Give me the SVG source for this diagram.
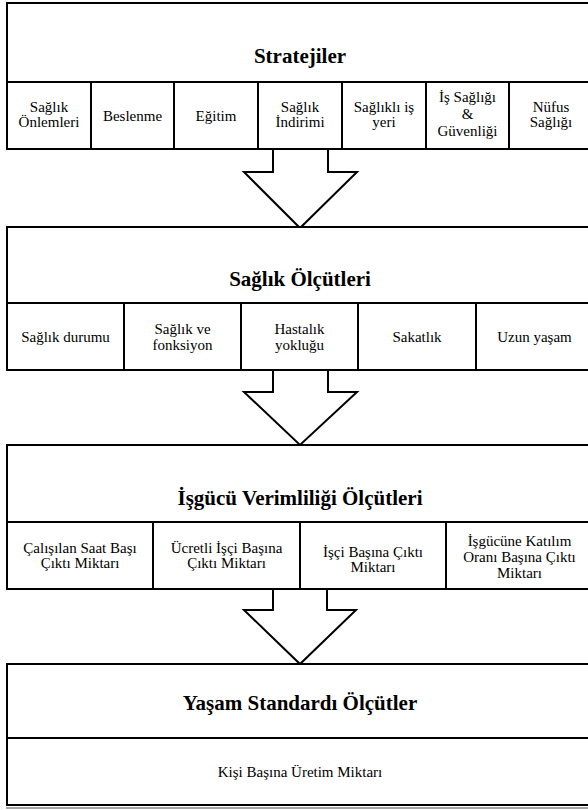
<svg xmlns="http://www.w3.org/2000/svg" width="588" height="810" viewBox="0 0 588 810">
<style>
.box{fill:#fff;stroke:#000;stroke-width:2}
.ln{stroke:#000;stroke-width:2;fill:none}
.arr{fill:#fff;stroke:#000;stroke-width:2;stroke-linejoin:miter}
text{font-family:"Liberation Serif","Times New Roman",Times,Tinos,"Nimbus Roman","Nimbus Roman No9 L",FreeSerif,"Noto Serif","DejaVu Serif",Georgia,serif;text-anchor:middle;fill:#000}
.t{font-size:21px;font-weight:bold}
.c{font-size:15px}
</style>
<rect width="588" height="810" fill="#fff"/>
<g id="connectors">
<polyline class="arr" points="273,149 273,172 244,172 300,228 357,172 328,172 328,149"/>
<polyline class="arr" points="273,370 273,392 244,392 300,445 357,392 328,392 328,370"/>
<polyline class="arr" points="273,589 273,610 244,610 300,664 356,610 327,610 327,589"/>
</g>
<g id="stratejiler">
<rect class="box" x="7" y="3" width="600" height="146"/>
<line class="ln" x1="7" y1="82" x2="600" y2="82"/>
<line class="ln" x1="91" y1="82" x2="91" y2="149"/>
<line class="ln" x1="174" y1="82" x2="174" y2="149"/>
<line class="ln" x1="258" y1="82" x2="258" y2="149"/>
<line class="ln" x1="342" y1="82" x2="342" y2="149"/>
<line class="ln" x1="426" y1="82" x2="426" y2="149"/>
<line class="ln" x1="509" y1="82" x2="509" y2="149"/>
<text class="t" x="300" y="63">Stratejiler</text>
<text class="c" x="49" y="112">Sağlık</text>
<text class="c" x="49" y="127">Önlemleri</text>
<text class="c" x="132.5" y="121">Beslenme</text>
<text class="c" x="216" y="121">Eğitim</text>
<text class="c" x="300" y="112">Sağlık</text>
<text class="c" x="300" y="127">İndirimi</text>
<text class="c" x="384" y="112">Sağlıklı iş</text>
<text class="c" x="384" y="127">yeri</text>
<text class="c" x="467.5" y="102">İş Sağlığı</text>
<text class="c" x="467.5" y="119">&amp;</text>
<text class="c" x="467.5" y="136">Güvenliği</text>
<text class="c" x="551" y="112">Nüfus</text>
<text class="c" x="551" y="127">Sağlığı</text>
</g>
<g id="saglik-olcutleri">
<rect class="box" x="7" y="227" width="600" height="143"/>
<line class="ln" x1="7" y1="303" x2="600" y2="303"/>
<line class="ln" x1="124" y1="303" x2="124" y2="370"/>
<line class="ln" x1="241" y1="303" x2="241" y2="370"/>
<line class="ln" x1="358" y1="303" x2="358" y2="370"/>
<line class="ln" x1="476" y1="303" x2="476" y2="370"/>
<text class="t" x="300" y="286">Sağlık Ölçütleri</text>
<text class="c" x="65.5" y="342">Sağlık durumu</text>
<text class="c" x="182.5" y="334">Sağlık ve</text>
<text class="c" x="182.5" y="350">fonksiyon</text>
<text class="c" x="299.5" y="334">Hastalık</text>
<text class="c" x="299.5" y="350">yokluğu</text>
<text class="c" x="417" y="342">Sakatlık</text>
<text class="c" x="534.5" y="342">Uzun yaşam</text>
</g>
<g id="isgucu-verimliligi">
<rect class="box" x="7" y="445" width="600" height="144"/>
<line class="ln" x1="7" y1="522" x2="600" y2="522"/>
<line class="ln" x1="153" y1="522" x2="153" y2="589"/>
<line class="ln" x1="300" y1="522" x2="300" y2="589"/>
<line class="ln" x1="446" y1="522" x2="446" y2="589"/>
<text class="t" x="300" y="505">İşgücü Verimliliği Ölçütleri</text>
<text class="c" x="80" y="553">Çalışılan Saat Başı</text>
<text class="c" x="80" y="568">Çıktı Miktarı</text>
<text class="c" x="226.5" y="553">Ücretli İşçi Başına</text>
<text class="c" x="226.5" y="568">Çıktı Miktarı</text>
<text class="c" x="373" y="557">İşçi Başına Çıktı</text>
<text class="c" x="373" y="572">Miktarı</text>
<text class="c" x="519.5" y="546">İşgücüne Katılım</text>
<text class="c" x="519.5" y="562">Oranı Başına Çıktı</text>
<text class="c" x="519.5" y="578">Miktarı</text>
</g>
<g id="yasam-standardi">
<rect class="box" x="7" y="664" width="600" height="141"/>
<line class="ln" x1="7" y1="738" x2="600" y2="738"/>
<line x1="6" y1="808" x2="600" y2="808" stroke="#888" stroke-width="1.5"/>
<text class="t" x="300" y="710">Yaşam Standardı Ölçütler</text>
<text class="c" x="300" y="777">Kişi Başına Üretim Miktarı</text>
</g>
</svg>
